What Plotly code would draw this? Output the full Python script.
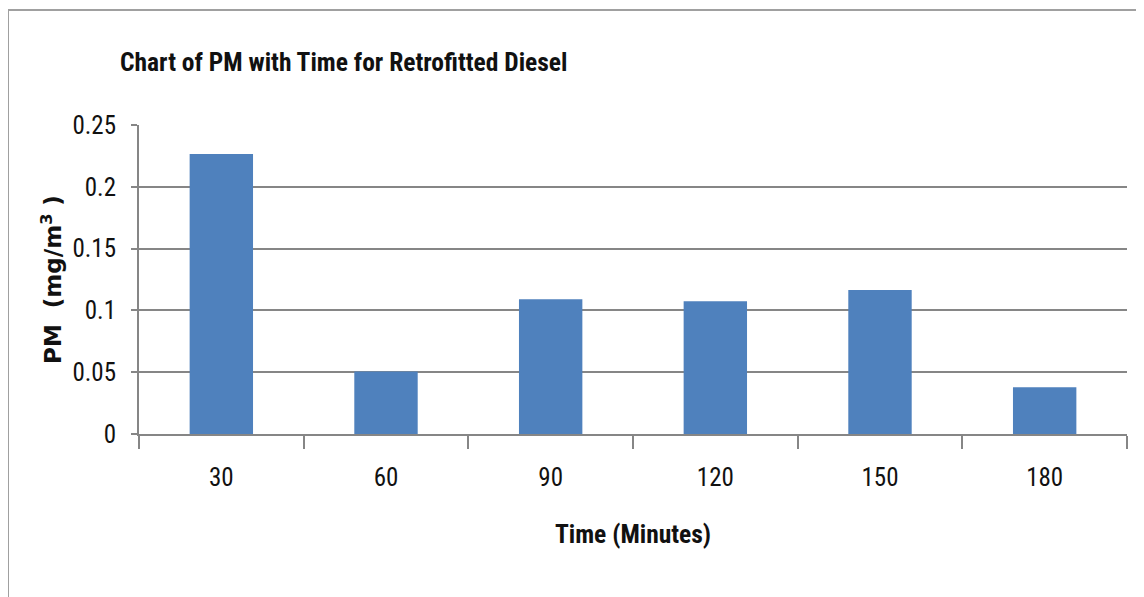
import plotly.graph_objects as go

categories = ["30", "60", "90", "120", "150", "180"]
pm_values = [0.2265, 0.0506, 0.109, 0.1074, 0.1165, 0.0379]
y_ticks = [0, 0.05, 0.1, 0.15, 0.2, 0.25]
y_tick_labels = ["0", "0.05", "0.1", "0.15", "0.2", "0.25"]

OFF = 8  # page body margin
W, H = 1144 - OFF, 597 - OFF
L, R, T, B = 139 - OFF, 17, 125 - OFF, 163
pw, ph = W - L - R, H - T - B

def px(x):  # screen x -> paper x
    return (x - OFF - L) / pw

def py(y):  # screen y -> paper y
    return (H - B - (y - OFF)) / ph

narrow = "Liberation Sans Narrow, Arial Narrow, Roboto Condensed, sans-serif"

fig = go.Figure()
fig.add_trace(go.Bar(
    x=categories, y=pm_values,
    marker=dict(color="#4F81BD", line=dict(width=0)),
    width=0.385,
))

fig.update_layout(
    width=W, height=H,
    margin=dict(l=L, r=R, t=T, b=B, autoexpand=False),
    paper_bgcolor="white", plot_bgcolor="white",
    showlegend=False,
    title=dict(
        text="Chart of PM with Time for Retrofitted Diesel",
        x=(120 - OFF) / W, xanchor="left",
        y=1 - (62 - OFF) / H, yanchor="middle",
        font=dict(family=narrow, size=25.5, color="#111111", weight="bold"),
    ),
    xaxis=dict(
        type="category",
        showgrid=False,
        showline=True, linecolor="#868686", linewidth=2,
        ticks="outside", tickson="boundaries", ticklen=13, tickwidth=2, tickcolor="#868686",
        tickfont=dict(family=narrow, size=25, color="#111111"),
        ticklabelstandoff=20,
        title=dict(text="Time (Minutes)", standoff=34,
                   font=dict(family=narrow, size=25.5, color="#111111", weight="bold")),
        range=[-0.5, 5.5],
    ),
    yaxis=dict(
        range=[0, 0.25],
        tickvals=y_ticks, ticktext=y_tick_labels,
        showgrid=True, gridcolor="#868686", gridwidth=2,
        zeroline=False,
        showline=True, linecolor="#868686", linewidth=2,
        ticks="outside", ticklen=6, tickwidth=2, tickcolor="#868686",
        tickfont=dict(family=narrow, size=25, color="#111111"),
        ticklabelstandoff=10,
        title=dict(text="PM  (mg/m<sup>3</sup> )", standoff=4,
                   font=dict(family="DejaVu Sans, Verdana, sans-serif", size=23, color="#111111", weight="bold")),
    ),
    shapes=[
        dict(type="line", xref="paper", yref="paper",
             x0=px(8), x1=px(8), y0=py(10), y1=py(620),
             line=dict(color="#A0A0A0", width=2)),
        dict(type="line", xref="paper", yref="paper",
             x0=px(8), x1=px(1170), y0=py(10), y1=py(10),
             line=dict(color="#A0A0A0", width=2)),
    ],
)

fig.write_html("out.html")
